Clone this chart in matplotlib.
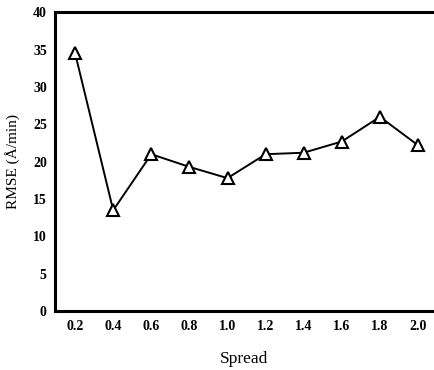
import matplotlib.pyplot as plt

spread = [0.2, 0.4, 0.6, 0.8, 1.0, 1.2, 1.4, 1.6, 1.8, 2.0]
rmse = [34.5, 13.5, 21.0, 19.3, 17.8, 21.0, 21.2, 22.7, 26.0, 22.2]
yticks = [0, 5, 10, 15, 20, 25, 30, 35, 40]

plt.rcParams['font.family'] = ['Liberation Serif', 'DejaVu Serif']

fig = plt.figure(figsize=(4.34, 3.7), dpi=100)
ax = fig.add_axes([0.127, 0.159, 0.873, 0.808])

ax.plot(spread, rmse, color='black', lw=1.4, marker='^', ms=8,
        mfc='white', mec='black', mew=1.5)

ax.set_xlim(0.095, 2.084)
ax.set_ylim(0, 40)
ax.set_xticks(spread)
ax.set_xticklabels([f'{v:.1f}' for v in spread])
ax.set_yticks(yticks)
ax.tick_params(length=0, labelsize=10, pad=6)
for lab in ax.get_xticklabels() + ax.get_yticklabels():
    lab.set_fontweight('bold')

for s in ['left', 'top', 'bottom']:
    ax.spines[s].set_linewidth(2.2)
ax.spines['right'].set_visible(False)

ax.set_xlabel('Spread', fontsize=12.5, labelpad=13)
ax.set_ylabel('RMSE (Å/min)', fontsize=11, labelpad=9)

fig.savefig('out.png', dpi=100)
